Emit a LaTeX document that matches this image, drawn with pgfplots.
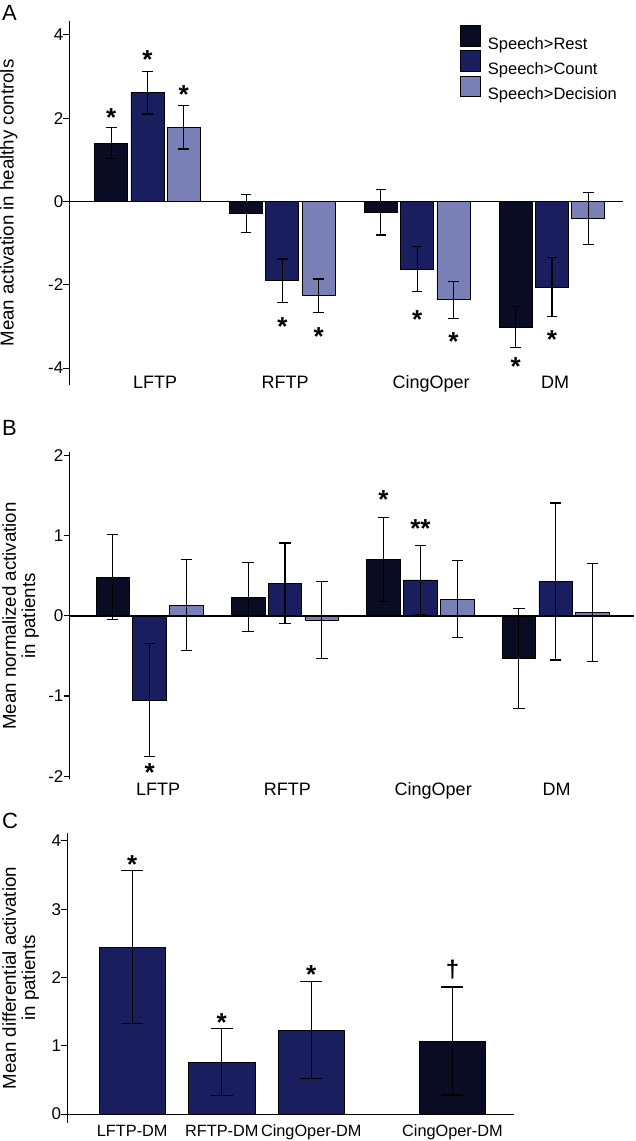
\documentclass[border=0pt]{standalone}
\usepackage{fontspec}
\setmainfont{Liberation Sans}
\usepackage{pgfplots}
\pgfplotsset{compat=1.18}
\definecolor{cR}{RGB}{10,12,35}
\definecolor{cC}{RGB}{25,30,95}
\definecolor{cD}{RGB}{120,128,182}
\tikzset{ast/.style={font=\fontsize{26}{26}\bfseries\selectfont, anchor=base, yshift=-14.9pt, inner sep=0pt}}
\newcommand\st{\smash{*}}
\pgfplotsset{
  panel/.style={
    scale only axis, anchor=north west, ybar,
    axis y line*=left, axis x line*=bottom,
    x axis line style={draw=none},
    y axis line style={line width=1.2pt, black, -},
    xtick style={draw=none},
    ytick style={line width=1.1pt, black},
    tick align=outside, major tick length=6pt,
    /pgf/number format/assume math mode=true,
    yticklabel style={font=\fontsize{17}{18}\selectfont, inner sep=0pt, anchor=east},
    clip=false,
  },
  br/.style={fill=#1, draw=black, line width=0.7pt},
  eb/.style={error bars/y dir=both, error bars/y explicit,
    error bars/error mark=|,
    error bars/error bar style={line width=1.1pt, black},
    error bars/error mark options={line width=1.1pt, black, mark size=#1}},
}
\begin{document}
\begin{tikzpicture}
\path[use as bounding box] (0pt,0pt) rectangle (635pt,-1141pt);
% ---------------- Panel A ----------------
\begin{axis}[panel, at={(69.5pt,-21pt)}, width=553.5pt, height=364pt,
  xmin=-0.5786, xmax=3.527, ymin=-4.405, ymax=4.333,
  ytick={-4,-2,0,2,4},
  xtick={0.056,1.02,2.103,3.023}, xticklabels={LFTP,RFTP,CingOper,DM},
  xticklabel style={font=\fontsize{18}{20}\selectfont, anchor=base, yshift=2.7pt, inner sep=0pt},
  bar width=0.245,
  legend style={at={(0.7043,0.989)}, anchor=north west, draw=none, fill=none, inner sep=0pt,
    font=\fontsize{16.5}{18}\selectfont, row sep=-2.2pt, cells={anchor=west},
    /tikz/every odd column/.append style={column sep=5pt}},
  legend image code/.code={\draw[#1] (0pt,-2.4pt) rectangle (20.7pt,18.3pt);},
]
\addplot[br=cR, bar shift=-0.269, eb=5.3pt] coordinates {(0,1.40) +- (0,0.37) (1,-0.29) +- (0,0.455) (2,-0.26) +- (0,0.545) (3,-3.02) +- (0,0.49)};
\addlegendentry{Speech>Rest}
\addplot[br=cC, bar shift=0, eb=5.3pt] coordinates {(0,2.61) +- (0,0.51) (1,-1.90) +- (0,0.52) (2,-1.63) +- (0,0.54) (3,-2.05) +- (0,0.71)};
\addlegendentry{Speech>Count}
\addplot[br=cD, bar shift=0.269, eb=5.3pt] coordinates {(0,1.78) +- (0,0.52) (1,-2.26) +- (0,0.40) (2,-2.36) +- (0,0.45) (3,-0.41) +- (0,0.62)};
\addlegendentry{Speech>Decision}
\draw[line width=1.2pt] (axis cs:-0.5786,0) -- (axis cs:3.527,0);
\node[ast] at (axis cs:-0.269,2.16) {\st};
\node[ast] at (axis cs:0,3.56) {\st};
\node[ast] at (axis cs:0.269,2.71) {\st};
\node[ast] at (axis cs:1,-2.85) {\st};
\node[ast] at (axis cs:1.269,-3.09) {\st};
\node[ast] at (axis cs:2,-2.69) {\st};
\node[ast] at (axis cs:2.269,-3.23) {\st};
\node[ast] at (axis cs:2.731,-3.83) {\st};
\node[ast] at (axis cs:3,-3.17) {\st};
\end{axis}
% ---------------- Panel B ----------------
\begin{axis}[panel, at={(69.6pt,-451.7pt)}, width=564pt, height=327.6pt,
  xmin=-0.591, xmax=3.575, ymin=-2.04, ymax=2.05,
  ytick={-2,-1,0,1,2},
  xtick={0.062,1.018,2.095,3.007}, xticklabels={LFTP,RFTP,CingOper,DM},
  xticklabel style={font=\fontsize{18}{20}\selectfont, anchor=base, yshift=-10.5pt, inner sep=0pt},
  bar width=0.248,
]
\addplot[br=cR, bar shift=-0.272, eb=5.7pt] coordinates {(0,0.483) +- (0,0.53) (1,0.233) +- (0,0.43) (2,0.704) +- (0,0.52) (3,-0.533) +- (0,0.62)};
\addplot[br=cC, bar shift=0, eb=5.7pt] coordinates {(0,-1.05) +- (0,0.70) (1,0.41) +- (0,0.50) (2,0.45) +- (0,0.43) (3,0.43) +- (0,0.98)};
\addplot[br=cD, bar shift=0.272, eb=5.7pt] coordinates {(0,0.133) +- (0,0.57) (1,-0.05) +- (0,0.48) (2,0.208) +- (0,0.48) (3,0.046) +- (0,0.61)};
\draw[line width=1.2pt] (axis cs:-0.591,0) -- (axis cs:3.575,0);
\node[ast] at (axis cs:0,-1.88) {\st};
\node[ast] at (axis cs:1.728,1.53) {\st};
\node[ast] at (axis cs:2,1.17) {\smash{**}};
\end{axis}
% ---------------- Panel C ----------------
\begin{axis}[panel, at={(67.3pt,-833.3pt)}, width=446.9pt, height=289.7pt,
  xmin=-0.725, xmax=4.266, ymin=-0.13, ymax=4.11,
  ytick={0,1,2,3,4},
  xtick={0,1,2,3.576}, xticklabels={LFTP-DM,RFTP-DM,CingOper-DM,CingOper-DM},
  xticklabel style={font=\fontsize{16.3}{18}\selectfont, anchor=base, yshift=-7.7pt, inner sep=0pt},
  bar width=0.741,
]
\addplot[br=cC, bar shift=0, eb=11pt] coordinates {(0,2.44) +- (0,1.12) (1,0.76) +- (0,0.49) (2,1.23) +- (0,0.71)};
\addplot[br=cR, bar shift=0, eb=11pt] coordinates {(3.576,1.07) +- (0,0.79)};
\draw[line width=1.2pt] (axis cs:-0.725,0) -- (axis cs:4.266,0);
\node[ast] at (axis cs:0,3.74) {\st};
\node[ast] at (axis cs:1,1.43) {\st};
\node[ast] at (axis cs:2,2.13) {\st};
\node[font=\fontsize{24}{24}\bfseries\selectfont, anchor=base, yshift=-7pt, inner sep=0pt] at (axis cs:3.576,2.107) {†};
\end{axis}
% ---------------- labels ----------------
\begin{scope}[every node/.style={inner sep=0pt}]
\node[rotate=90, anchor=base, font=\fontsize{18.7}{20}\selectfont] at (13.5pt,-203pt) {Mean activation in healthy controls};
\node[rotate=90, anchor=base, font=\fontsize{18.7}{20}\selectfont] at (16pt,-616pt) {Mean normalized activation};
\node[rotate=90, anchor=base, font=\fontsize{18.7}{20}\selectfont] at (35pt,-616pt) {in patients};
\node[rotate=90, anchor=base, font=\fontsize{18.7}{20}\selectfont] at (16pt,-978pt) {Mean differential activation};
\node[rotate=90, anchor=base, font=\fontsize{18.7}{20}\selectfont] at (35pt,-978pt) {in patients};
\node[anchor=base west, font=\fontsize{22}{24}\selectfont] at (2pt,-20pt) {A};
\node[anchor=base west, font=\fontsize{22}{24}\selectfont] at (2pt,-435pt) {B};
\node[anchor=base west, font=\fontsize{22}{24}\selectfont] at (2pt,-828pt) {C};
\end{scope}
\end{tikzpicture}
\end{document}
